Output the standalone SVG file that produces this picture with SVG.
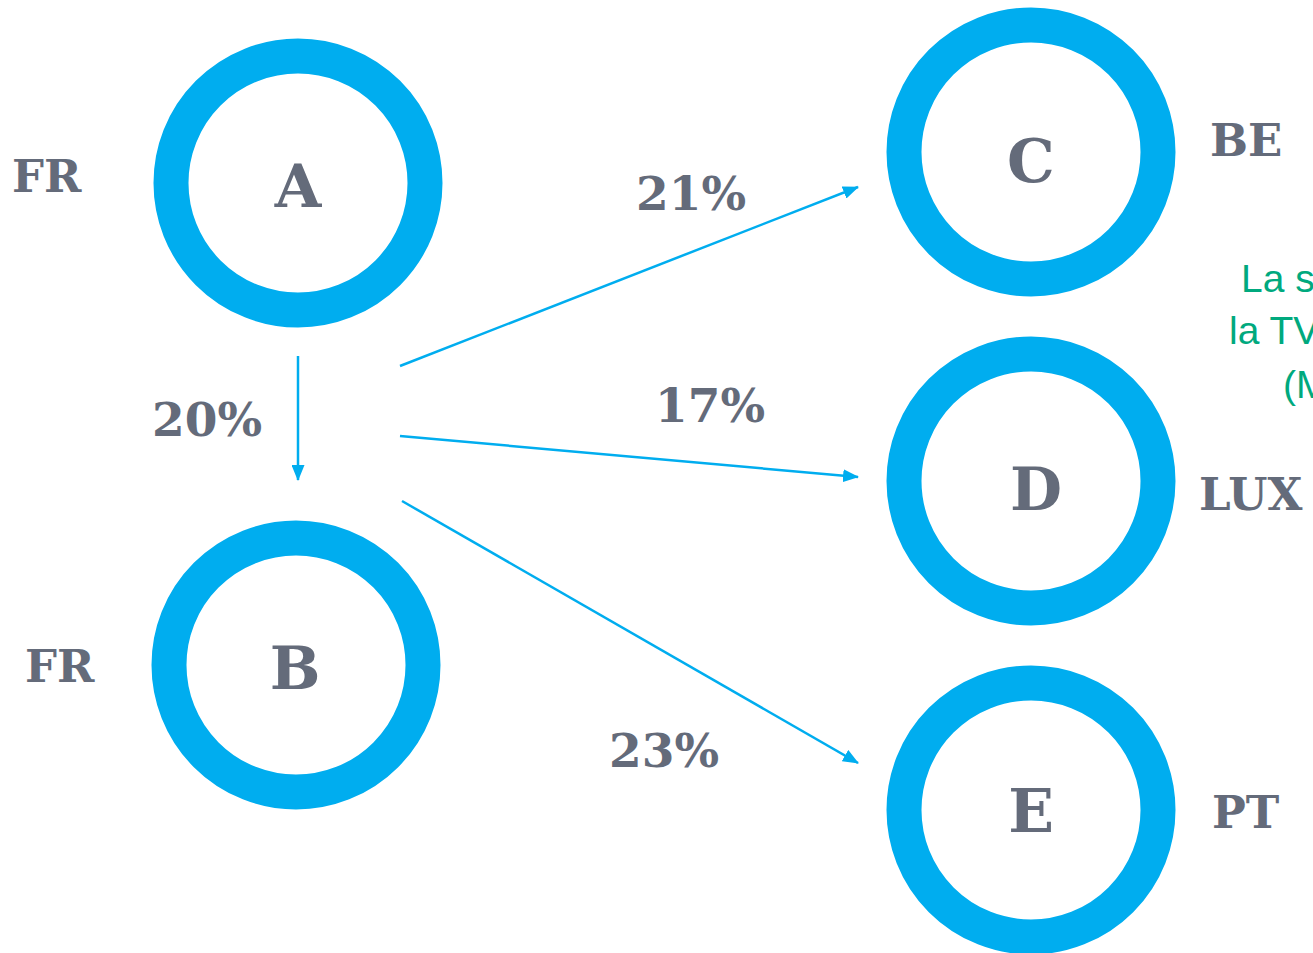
<svg xmlns="http://www.w3.org/2000/svg" width="1313" height="953" viewBox="0 0 1313 953">
<defs>
<marker id="ah" markerWidth="16" markerHeight="13" refX="15" refY="6.5" orient="auto" markerUnits="userSpaceOnUse" viewBox="0 0 16 13">
<path d="M0,0 L16,6.5 L0,13 z" fill="#00adef"/>
</marker>
<style>
.ring{fill:none;stroke:#00adef;stroke-width:35}
.big{font-family:"DejaVu Serif","Liberation Serif",serif;font-weight:bold;font-size:60px;fill:#646b7a;text-anchor:middle}
.lbl{font-family:"DejaVu Serif","Liberation Serif",serif;font-weight:bold;font-size:45px;fill:#646b7a}
.pct{font-family:"DejaVu Serif","Liberation Serif",serif;font-weight:bold;font-size:47px;fill:#646b7a}
.conn{stroke:#00adef;stroke-width:2.5;fill:none}
.note{font-family:"Liberation Sans",Roboto,sans-serif;font-size:39px;fill:#00a97e}
</style>
</defs>
<rect width="1313" height="953" fill="#ffffff"/>
<g id="connectors">
<line class="conn" x1="298" y1="356" x2="298" y2="480" marker-end="url(#ah)"/>
<line class="conn" x1="400" y1="366" x2="858" y2="187" marker-end="url(#ah)"/>
<line class="conn" x1="400" y1="436" x2="858" y2="477" marker-end="url(#ah)"/>
<line class="conn" x1="402" y1="501" x2="858" y2="763" marker-end="url(#ah)"/>
<text class="pct" x="152" y="436">20%</text>
<text class="pct" x="636" y="210">21%</text>
<text class="pct" x="655" y="422">17%</text>
<text class="pct" x="609" y="767">23%</text>
</g>
<g id="node-A">
<circle class="ring" cx="298" cy="183" r="127"/>
<text class="big" x="298" y="207">A</text>
<text class="lbl" x="12" y="192">FR</text>
</g>
<g id="node-B">
<circle class="ring" cx="296" cy="665" r="127"/>
<text class="big" x="295" y="689">B</text>
<text class="lbl" x="25" y="682">FR</text>
</g>
<g id="node-C">
<circle class="ring" cx="1031" cy="152" r="127"/>
<text class="big" x="1031" y="182">C</text>
<text class="lbl" x="1210" y="156">BE</text>
</g>
<g id="node-D">
<circle class="ring" cx="1031" cy="481" r="127"/>
<text class="big" x="1036" y="510">D</text>
<text class="lbl" x="1199" y="510">LUX</text>
</g>
<g id="node-E">
<circle class="ring" cx="1031" cy="810" r="127"/>
<text class="big" x="1031" y="832">E</text>
<text class="lbl" x="1212" y="828">PT</text>
</g>
<g id="note">
<text class="note" x="1241" y="292">La s</text>
<text class="note" x="1229" y="344">la TV</text>
<text class="note" x="1283" y="398">(M</text>
</g>
</svg>
